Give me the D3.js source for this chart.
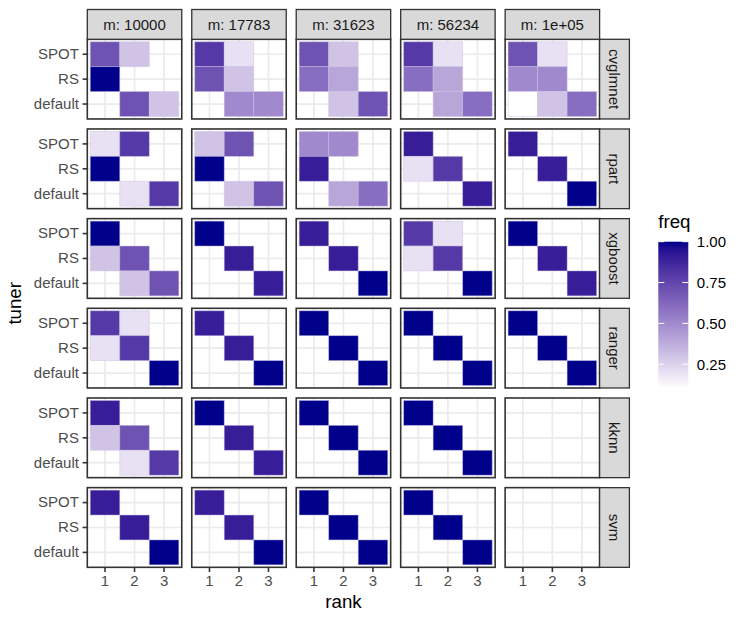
<!DOCTYPE html>
<html><head><meta charset="utf-8">
<script src="https://cdn.jsdelivr.net/npm/d3@7"></script>
<style>
body{margin:0;background:#fff}
text{font-family:"Liberation Sans",Arial,Helvetica,sans-serif}
</style>
</head><body>
<svg id="chart" width="747" height="623"></svg>
<script>
// ---- data ----
const mLabels = ["m: 10000", "m: 17783", "m: 31623", "m: 56234", "m: 1e+05"];
const models = ["cvglmnet", "rpart", "xgboost", "ranger", "kknn", "svm"];
const tuners = ["SPOT", "RS", "default"];
const ranks = ["1", "2", "3"];
const legendTicks = [0.25, 0.50, 0.75, 1.00];

// each model: one matrix per m column; rows = tuners (SPOT, RS, default), cols = rank 1..3; 0 = no tile
const freqCvglmnet = [
  [[0.7,0.3,0],[1.0,0,0],[0,0.7,0.3]],
  [[0.8,0.2,0],[0.7,0.3,0],[0,0.5,0.5]],
  [[0.7,0.3,0],[0.6,0.4,0],[0,0.3,0.7]],
  [[0.8,0.2,0],[0.6,0.4,0],[0,0.4,0.6]],
  [[0.7,0.2,0],[0.5,0.5,0],[0.1,0.3,0.6]]
];
const freqRpart = [
  [[0.2,0.8,0],[1.0,0,0],[0,0.2,0.8]],
  [[0.3,0.7,0],[1.0,0,0],[0,0.3,0.7]],
  [[0.5,0.5,0],[0.9,0,0],[0,0.4,0.6]],
  [[0.9,0,0],[0.2,0.8,0],[0,0,0.9]],
  [[0.9,0,0],[0,0.9,0],[0,0,1.0]]
];
const freqXgboost = [
  [[1.0,0,0],[0.3,0.7,0],[0,0.3,0.7]],
  [[1.0,0,0],[0,0.9,0],[0,0,0.9]],
  [[0.9,0,0],[0,0.9,0],[0,0,1.0]],
  [[0.8,0.2,0],[0.2,0.8,0],[0,0,1.0]],
  [[1.0,0,0],[0,0.9,0],[0,0,0.9]]
];
const freqRanger = [
  [[0.8,0.2,0],[0.2,0.8,0],[0,0,1.0]],
  [[0.9,0,0],[0,0.9,0],[0,0,1.0]],
  [[1.0,0,0],[0,1.0,0],[0,0,1.0]],
  [[1.0,0,0],[0,1.0,0],[0,0,1.0]],
  [[1.0,0,0],[0,1.0,0],[0,0,1.0]]
];
const freqKknn = [
  [[0.9,0,0],[0.3,0.7,0],[0,0.2,0.8]],
  [[1.0,0,0],[0,0.9,0],[0,0,0.9]],
  [[1.0,0,0],[0,1.0,0],[0,0,1.0]],
  [[1.0,0,0],[0,1.0,0],[0,0,1.0]],
  [[0,0,0],[0,0,0],[0,0,0]]
];
const freqSvm = [
  [[0.9,0,0],[0,0.9,0],[0,0,1.0]],
  [[0.9,0,0],[0,0.9,0],[0,0,1.0]],
  [[1.0,0,0],[0,1.0,0],[0,0,1.0]],
  [[1.0,0,0],[0,1.0,0],[0,0,1.0]],
  [[0,0,0],[0,0,0],[0,0,0]]
];
const freqByModel = {cvglmnet: freqCvglmnet, rpart: freqRpart, xgboost: freqXgboost,
                     ranger: freqRanger, kknn: freqKknn, svm: freqSvm};

// ---- flatten to a table ----
const table = [];
models.forEach((mod, ri) => {
  freqByModel[mod].forEach((panel, ci) => {
    panel.forEach((vals, ti) => vals.forEach((f, k) => {
      if (f > 0) table.push({model: mod, row: ri, col: ci, tuner: tuners[ti], rank: ranks[k], freq: f});
    }));
  });
});

// ---- layout ----
const panelLeft = 87.3, panelTop = 39.3, pw = 94.46, ph = 79.67, gap = 10;
const stripH = 29.8;
const dark = "#333333";
const svg = d3.select("#chart");

const x = d3.scaleBand().domain(ranks).range([0, pw]).paddingInner(0).paddingOuter(0.1);
const y = d3.scaleBand().domain(tuners).range([0, ph]).paddingInner(0).paddingOuter(0.1);
const color = d3.scaleSequential(d3.interpolateLab("#ffffff", "#00008b"))
  .domain(d3.extent(table, d => d.freq));

const px = c => panelLeft + c * (pw + gap);
const py = r => panelTop + r * (ph + gap);

models.forEach((mod, ri) => {
  mLabels.forEach((lab, ci) => {
    const g = svg.append("g").attr("transform", `translate(${px(ci)},${py(ri)})`);
    g.append("rect").attr("width", pw).attr("height", ph).attr("fill", "#fff");
    // grid
    g.selectAll(".gx").data(ranks).join("line")
      .attr("x1", d => x(d) + x.bandwidth() / 2).attr("x2", d => x(d) + x.bandwidth() / 2)
      .attr("y1", 0).attr("y2", ph).attr("stroke", "#ebebeb").attr("stroke-width", 1.7);
    g.selectAll(".gy").data(tuners).join("line")
      .attr("y1", d => y(d) + y.bandwidth() / 2).attr("y2", d => y(d) + y.bandwidth() / 2)
      .attr("x1", 0).attr("x2", pw).attr("stroke", "#ebebeb").attr("stroke-width", 1.7);
    // tiles
    g.selectAll(".tile").data(table.filter(d => d.row === ri && d.col === ci)).join("rect")
      .attr("x", d => x(d.rank)).attr("y", d => y(d.tuner))
      .attr("width", x.bandwidth()).attr("height", y.bandwidth())
      .attr("fill", d => color(d.freq))
      .attr("stroke", "#c9bfe4").attr("stroke-opacity", 0.55).attr("stroke-width", 0.8);
    // border
    g.append("rect").attr("width", pw).attr("height", ph).attr("fill", "none")
      .attr("stroke", dark).attr("stroke-width", 1.6);

    // left axis
    if (ci === 0) {
      const ax = g.append("g").call(d3.axisLeft(y).tickSize(4.7).tickPadding(3.7));
      ax.select(".domain").remove();
      ax.selectAll("line").attr("stroke", dark).attr("stroke-width", 1.6);
      ax.selectAll("text").attr("fill", "#4d4d4d").style("font-size", "15px")
        .style("font-family", '"Liberation Sans",Arial,sans-serif');
    }
    // bottom axis
    if (ri === models.length - 1) {
      const ax = g.append("g").attr("transform", `translate(0,${ph})`)
        .call(d3.axisBottom(x).tickSize(4.7).tickPadding(3.2));
      ax.select(".domain").remove();
      ax.selectAll("line").attr("stroke", dark).attr("stroke-width", 1.6);
      ax.selectAll("text").attr("fill", "#4d4d4d").style("font-size", "15px")
        .style("font-family", '"Liberation Sans",Arial,sans-serif');
    }
  });
});

// top strips
mLabels.forEach((lab, ci) => {
  const g = svg.append("g").attr("transform", `translate(${px(ci)},${panelTop - stripH})`);
  g.append("rect").attr("width", pw).attr("height", stripH)
    .attr("fill", "#d9d9d9").attr("stroke", dark).attr("stroke-width", 1.3);
  g.append("text").attr("x", pw / 2).attr("y", stripH / 2).attr("dy", "0.35em")
    .attr("text-anchor", "middle").attr("fill", "#1a1a1a").style("font-size", "15px").text(lab);
});
// right strips
const stripX = px(mLabels.length - 1) + pw;
models.forEach((mod, ri) => {
  const g = svg.append("g").attr("transform", `translate(${stripX},${py(ri)})`);
  g.append("rect").attr("width", stripH).attr("height", ph)
    .attr("fill", "#d9d9d9").attr("stroke", dark).attr("stroke-width", 1.3);
  g.append("text").attr("transform", `translate(${stripH / 2},${ph / 2}) rotate(90)`)
    .attr("dy", "0.35em").attr("text-anchor", "middle").attr("fill", "#1a1a1a")
    .style("font-size", "15px").text(mod);
});

// axis titles
const panelsRight = px(mLabels.length - 1) + pw;
const panelsBottom = py(models.length - 1) + ph;
svg.append("text").attr("x", (panelLeft + panelsRight) / 2).attr("y", 608)
  .attr("text-anchor", "middle").style("font-size", "18.7px").attr("fill", "#000").text("rank");
svg.append("text").attr("transform", `translate(21,${(panelTop + panelsBottom) / 2}) rotate(-90)`)
  .attr("text-anchor", "middle").style("font-size", "18.7px").attr("fill", "#000").text("tuner");

// legend
const lx = 658.3, ly = 241.7, lw = 30, lh = 147;
svg.append("text").attr("x", lx).attr("y", 228).style("font-size", "18.7px").attr("fill", "#000").text("freq");
const defs = svg.append("defs");
const grad = defs.append("linearGradient").attr("id", "lg").attr("x1", 0).attr("y1", 1).attr("x2", 0).attr("y2", 0);
const dom = color.domain();
d3.range(0, 1.0001, 0.05).forEach(t => {
  grad.append("stop").attr("offset", t).attr("stop-color", color(dom[0] + t * (dom[1] - dom[0])));
});
svg.append("rect").attr("x", lx).attr("y", ly).attr("width", lw).attr("height", lh).attr("fill", "url(#lg)");
const ls = d3.scaleLinear().domain(dom).range([ly + lh, ly]);
legendTicks.forEach(v => {
  svg.append("line").attr("x1", lx).attr("x2", lx + lw / 5).attr("y1", ls(v)).attr("y2", ls(v))
    .attr("stroke", "#fff").attr("stroke-width", 1);
  svg.append("line").attr("x1", lx + lw - lw / 5).attr("x2", lx + lw).attr("y1", ls(v)).attr("y2", ls(v))
    .attr("stroke", "#fff").attr("stroke-width", 1);
});
const la = svg.append("g").attr("transform", `translate(${lx + lw},0)`)
  .call(d3.axisRight(ls).tickValues(legendTicks).tickFormat(d3.format(".2f")).tickSize(0).tickPadding(8.5));
la.select(".domain").remove();
la.selectAll("text").attr("fill", "#000").style("font-size", "15px")
  .style("font-family", '"Liberation Sans",Arial,sans-serif');
</script>
</body></html>
